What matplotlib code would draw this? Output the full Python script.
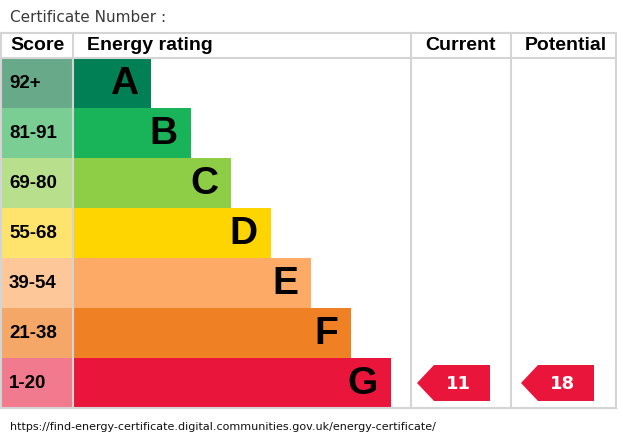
import matplotlib.pyplot as plt
from matplotlib.patches import Polygon

# EPC bands
letters = ['A', 'B', 'C', 'D', 'E', 'F', 'G']
score_ranges = ['92+', '81-91', '69-80', '55-68', '39-54', '21-38', '1-20']
band_min = [92, 81, 69, 55, 39, 21, 1]
bar_colors = ['#008054', '#19b459', '#8dce46', '#ffd500', '#fcaa65', '#ef8023', '#e9153b']
cell_colors = ['#68a98a', '#7ace93', '#b8df8c', '#fee46d', '#fdc79a', '#f4a766', '#f27a8e']
current = 11
potential = 18

title = 'Certificate Number :'
footer = 'https://find-energy-certificate.digital.communities.gov.uk/energy-certificate/'

fig = plt.figure(figsize=(6.2, 4.4), dpi=100)
ax = fig.add_axes([0, 0, 1, 1])
ax.set_xlim(0, 620)
ax.set_ylim(440, 0)
ax.axis('off')

top, row_h, score_w = 58, 50, 73
grid = '#d4d4d4'
bold = dict(family='Liberation Sans', fontweight='bold')

# table lines
ax.plot([0, 616], [33, 33], color=grid, lw=1.5)
ax.plot([0, 616], [58, 58], color=grid, lw=1.5)
ax.plot([0, 616], [408, 408], color=grid, lw=1.5)
for x in [0.8, 73, 411, 511, 616]:
    ax.plot([x, x], [33, 408], color=grid, lw=1.5)

ax.text(10, 46, 'Score', fontsize=14, va='center', **bold)
ax.text(87, 46, 'Energy rating', fontsize=14, va='center', **bold)
ax.text(461, 46, 'Current', fontsize=14, va='center', ha='center', **bold)
ax.text(566, 46, 'Potential', fontsize=14, va='center', ha='center', **bold)

ys = [top + row_h * i + row_h / 2 for i in range(len(letters))]
widths = [78 + 40 * i for i in range(len(letters))]
ax.barh(ys, [score_w] * len(ys), left=0, height=row_h, color=cell_colors)
ax.barh(ys, widths, left=score_w, height=row_h, color=bar_colors)

for y, w, letter, rng in zip(ys, widths, letters, score_ranges):
    ax.text(score_w + w - 13, y + 1, letter, fontsize=28, ha='right', va='center', **bold)
    ax.text(9, y + 1, rng, fontsize=13.5, va='center', **bold)


def band_of(v):
    for i, m in enumerate(band_min):
        if v >= m:
            return i
    return len(band_min) - 1


for value, x0 in [(current, 417), (potential, 521)]:
    i = band_of(value)
    yc = ys[i]
    pts = [(x0, yc), (x0 + 17, yc - 18), (x0 + 73, yc - 18),
           (x0 + 73, yc + 18), (x0 + 17, yc + 18)]
    ax.add_patch(Polygon(pts, closed=True, color=bar_colors[i], lw=0))
    ax.text(x0 + 41, yc + 1, str(value), color='white', fontsize=13,
            fontweight='bold', family='DejaVu Sans', ha='center', va='center')

ax.text(10, 17, title, fontsize=11, color='#3a3a3a', va='center', family='DejaVu Sans')
ax.text(10, 427, footer, fontsize=8, color='#111111', va='center', family='DejaVu Sans')

fig.savefig('out.png', dpi=100)
